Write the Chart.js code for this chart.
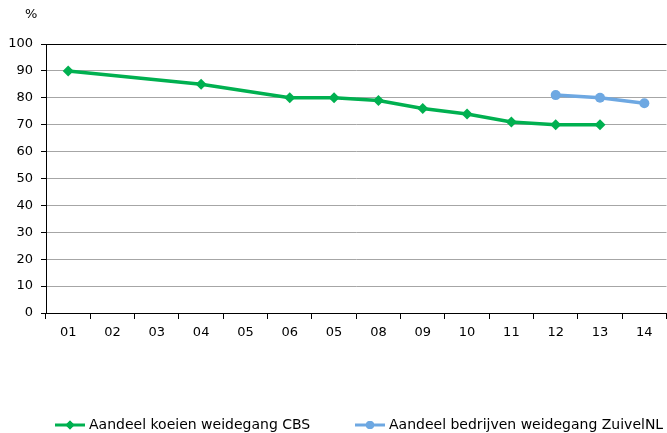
<!DOCTYPE html>
<html><head><meta charset="utf-8">
<script src="https://cdn.jsdelivr.net/npm/chart.js@4/dist/chart.umd.min.js"></script>
<style>html,body{margin:0;padding:0;overflow:hidden;background:#fff}#wrap{width:672px;height:433px}</style>
</head><body><div id="wrap"><canvas id="c" width="672" height="433"></canvas></div>
<script>
const categories = ['01','02','03','04','05','06','05','08','09','10','11','12','13','14'];
const cbsValues = [90, null, null, 85, null, 80, 80, 79, 76, 74, 71, 70, 70, null];
const zuivelValues = [null, null, null, null, null, null, null, null, null, null, null, 81, 80, 78];
const yTicks = [0,10,20,30,40,50,60,70,80,90,100];
const seriesNames = ['Aandeel koeien weidegang CBS', 'Aandeel bedrijven weidegang ZuivelNL'];
const FONT = 'DejaVu Sans, Verdana, sans-serif';
const GREEN = '#00B050', BLUE = '#6EA8E2';

const extras = {
  id: 'extras',
  afterDraw(chart) {
    const ctx = chart.ctx;
    ctx.save();
    ctx.fillStyle = '#000';
    ctx.font = '13px ' + FONT;
    ctx.textBaseline = 'middle';
    ctx.fillText('%', 25, 15);
    // legend
    const items = [
      {x: 55, color: GREEN, style: 'rectRot', r: 4.5, text: seriesNames[0], w: 224},
      {x: 355, color: BLUE, style: 'circle', r: 4, text: seriesNames[1], w: 276}
    ];
    const y = 425;
    items.forEach(it => {
      ctx.strokeStyle = it.color; ctx.lineWidth = 3;
      ctx.beginPath(); ctx.moveTo(it.x, y); ctx.lineTo(it.x + 30, y); ctx.stroke();
      ctx.fillStyle = it.color;
      Chart.helpers.drawPoint(ctx, {pointStyle: it.style, radius: it.r, borderWidth: 0}, it.x + 15, y);
      ctx.fill();
      ctx.fillStyle = '#000';
      ctx.font = '14px ' + FONT;
      ctx.fillText(it.text, it.x + 34, y, it.w);
    });
    ctx.restore();
  }
};

new Chart(document.getElementById('c'), {
  type: 'line',
  data: {
    labels: categories,
    datasets: [
      {label: seriesNames[0], data: cbsValues, borderColor: GREEN, backgroundColor: GREEN,
       borderWidth: 3.5, pointStyle: 'rectRot', pointRadius: 5.5, pointBorderWidth: 0, spanGaps: true, tension: 0},
      {label: seriesNames[1], data: zuivelValues, borderColor: BLUE, backgroundColor: BLUE,
       borderWidth: 3.5, pointStyle: 'circle', pointRadius: 5, pointBorderWidth: 0, spanGaps: true, tension: 0}
    ]
  },
  options: {
    responsive: false, animation: false, maintainAspectRatio: false,
    layout: {padding: {top: 44, left: 0, right: 1, bottom: 0}},
    plugins: {legend: {display: false}, tooltip: {enabled: false}},
    scales: {
      x: {
        type: 'category', offset: true,
        grid: {display: true, drawOnChartArea: false, drawTicks: true, tickLength: 6, tickColor: '#000', offset: true},
        border: {display: true, color: '#000', width: 1},
        ticks: {color: '#000', font: {family: FONT, size: 13}, padding: 6, maxRotation: 0, autoSkip: false},
        afterFit(s) { s.height = 120; }
      },
      y: {
        min: 0, max: 100,
        afterBuildTicks(s) { s.ticks = yTicks.map(v => ({value: v})); },
        grid: {color: ctx => ctx.tick && ctx.tick.value === 100 ? '#000' : '#A6A6A6', lineWidth: 1, drawTicks: true, tickLength: 5, tickColor: '#000'},
        border: {display: true, color: '#000', width: 1},
        ticks: {color: '#000', font: {family: FONT, size: 13}, padding: 8},
        afterFit(s) { s.width = 46; }
      }
    }
  },
  plugins: [extras]
});
</script>
</body></html>
